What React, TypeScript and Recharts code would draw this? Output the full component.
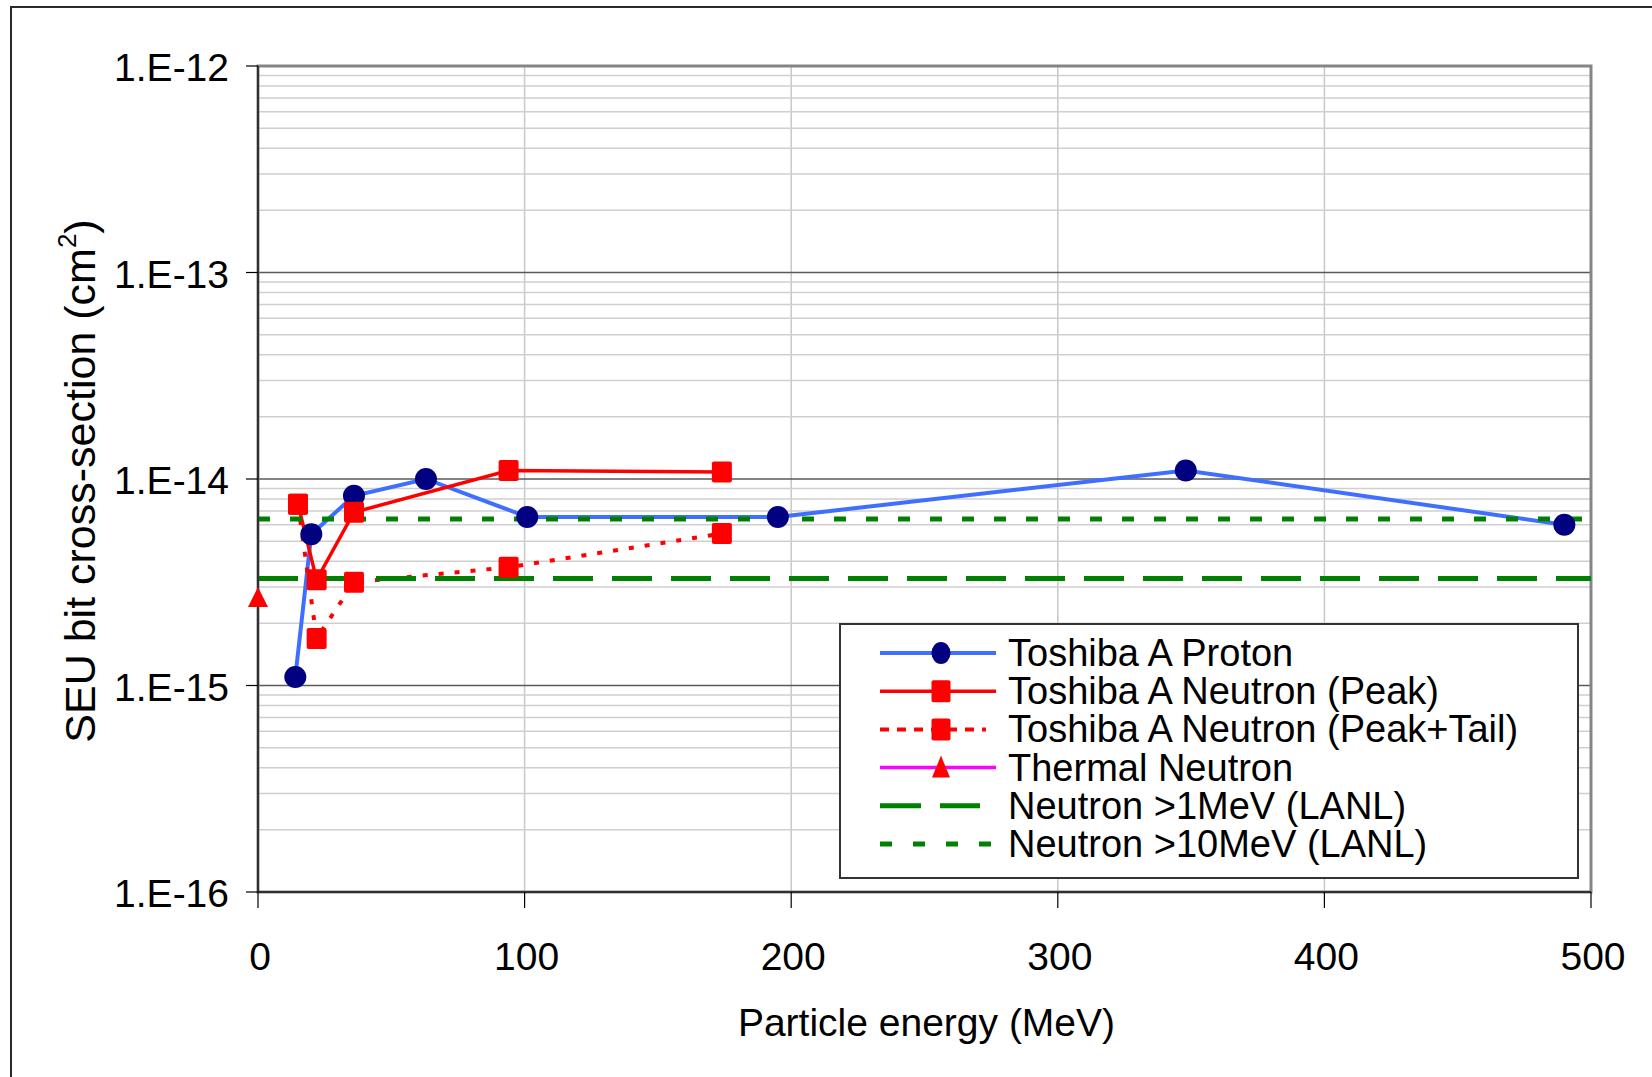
import React from 'react';
import {
  LineChart,
  Line,
  XAxis,
  YAxis,
  CartesianGrid,
  ReferenceArea,
  Legend,
  Label,
} from 'recharts';

const FONT = 'Arial, "Liberation Sans", sans-serif';

// ---- data (energy in MeV, SEU bit cross-section in cm^2) ----
const protonEnergy = [14, 20, 36, 63, 101, 195, 348, 490];
const protonSigma = [1.1e-15, 5.4e-15, 8.3e-15, 1.0e-14, 6.55e-15, 6.55e-15, 1.1e-14, 6.0e-15];

const peakEnergy = [15, 22, 36, 94, 174];
const peakSigma = [7.55e-15, 3.25e-15, 6.9e-15, 1.1e-14, 1.08e-14];

const tailEnergy = [15, 22, 36, 94, 174];
const tailSigma = [7.55e-15, 1.69e-15, 3.16e-15, 3.74e-15, 5.44e-15];

const thermalEnergy = [0];
const thermalSigma = [2.65e-15];

const lanlEnergy = [0, 500];
const lanl1MeVSigma = [3.3e-15, 3.3e-15];
const lanl10MeVSigma = [6.4e-15, 6.4e-15];

// ---- axes ----
const xTicks = [0, 100, 200, 300, 400, 500];
const yTicks = [1e-16, 1e-15, 1e-14, 1e-13, 1e-12];
const yTickLabels = ['1.E-16', '1.E-15', '1.E-14', '1.E-13', '1.E-12'];
const minorDecades = [1e-16, 1e-15, 1e-14, 1e-13];
const minorMultipliers = [2, 3, 4, 5, 6, 7, 8, 9];

const seriesNames = [
  'Toshiba A Proton',
  'Toshiba A Neutron (Peak)',
  'Toshiba A Neutron (Peak+Tail)',
  'Thermal Neutron',
  'Neutron >1MeV (LANL)',
  'Neutron >10MeV (LANL)',
];

const toPoints = (xs: number[], ys: number[]) => xs.map((x, i) => ({ x, y: ys[i] }));

const protonData = toPoints(protonEnergy, protonSigma);
const peakData = toPoints(peakEnergy, peakSigma);
const tailData = toPoints(tailEnergy, tailSigma);
const thermalData = toPoints(thermalEnergy, thermalSigma);
const lanl1Data = toPoints(lanlEnergy, lanl1MeVSigma);
const lanl10Data = toPoints(lanlEnergy, lanl10MeVSigma);

const minorValues = minorDecades.flatMap((d) => minorMultipliers.map((m) => m * d));

const BLUE = '#3F6FFF';
const NAVY = '#000080';
const RED = '#FF0000';
const GREEN = '#008000';
const MAGENTA = '#FF00FF';

const CircleDot = (props: any) => {
  const { cx, cy, index } = props;
  if (cx == null || cy == null) return <g key={`c${index}`} />;
  return <circle key={`c${index}`} cx={cx} cy={cy} r={11} fill={NAVY} />;
};

const SquareDot = (props: any) => {
  const { cx, cy, index } = props;
  if (cx == null || cy == null) return <g key={`s${index}`} />;
  return <rect key={`s${index}`} x={cx - 10} y={cy - 10.5} width={20} height={21} rx={2} fill={RED} />;
};

const TriangleDot = (props: any) => {
  const { cx, cy, index } = props;
  if (cx == null || cy == null) return <g key={`t${index}`} />;
  return (
    <path
      key={`t${index}`}
      d={`M${cx},${cy - 11} L${cx + 10},${cy + 9} L${cx - 10},${cy + 9} Z`}
      fill={RED}
    />
  );
};

const XTick = (props: any) => {
  const { x, y, payload } = props;
  return (
    <text x={x + 2} y={y} dy={38} textAnchor="middle" fontFamily={FONT} fontSize={39} fill="#000">
      {payload.value}
    </text>
  );
};

const YTick = (props: any) => {
  const { x, y, payload } = props;
  const idx = yTicks.findIndex((t) => Math.abs(Math.log10(t) - Math.log10(payload.value)) < 1e-6);
  return (
    <text x={x} y={y} dy={15} textAnchor="end" fontFamily={FONT} fontSize={39} fill="#000">
      {idx >= 0 ? yTickLabels[idx] : ''}
    </text>
  );
};

const YTitle = (props: any) => {
  const vb = props.viewBox || { x: 0, y: 0, width: 0, height: 0 };
  const x = vb.x + 95;
  const y = vb.y + vb.height / 2 + 2;
  return (
    <text
      x={x}
      y={y}
      transform={`rotate(-90, ${x}, ${y})`}
      textAnchor="middle"
      fontFamily={FONT}
      fontSize={43}
      fill="#000"
    >
      <tspan>SEU bit cross-section (cm</tspan>
      <tspan fontSize={26} dy={-19}>2</tspan>
      <tspan dy={19}>)</tspan>
    </text>
  );
};

const XTitle = (props: any) => {
  const vb = props.viewBox || { x: 0, y: 0, width: 0, height: 0 };
  return (
    <text
      x={vb.x + vb.width / 2 + 2}
      y={vb.y + 144}
      textAnchor="middle"
      fontFamily={FONT}
      fontSize={39}
      fill="#000"
    >
      Particle energy (MeV)
    </text>
  );
};

type LegendSpec = {
  stroke: string;
  dash?: string;
  width: number;
  marker?: 'circle' | 'square' | 'triangle';
  x2: number;
};

const legendSpecs: LegendSpec[] = [
  { stroke: BLUE, width: 4, marker: 'circle', x2: 157 },
  { stroke: RED, width: 3.5, marker: 'square', x2: 157 },
  { stroke: RED, width: 4, dash: '9 8', marker: 'square', x2: 147 },
  { stroke: MAGENTA, width: 3.5, marker: 'triangle', x2: 157 },
  { stroke: GREEN, width: 5, dash: '41 19', x2: 141 },
  { stroke: GREEN, width: 5, dash: '12 21', x2: 153 },
];

const LegendBox = () => (
  <svg width={740} height={256} style={{ display: 'block' }}>
    <rect x={1} y={1} width={738} height={254} fill="#fff" stroke="#333" strokeWidth={2} />
    {seriesNames.map((name, i) => {
      const s = legendSpecs[i];
      const y = 30 + i * 38.2;
      const mx = 102;
      return (
        <g key={name}>
          <line x1={41} x2={s.x2} y1={y} y2={y} stroke={s.stroke} strokeWidth={s.width} strokeDasharray={s.dash} />
          {s.marker === 'circle' && <ellipse cx={mx} cy={y} rx={9.5} ry={11} fill={NAVY} />}
          {s.marker === 'square' && <rect x={mx - 9.5} y={y - 11} width={19} height={22} rx={2} fill={RED} />}
          {s.marker === 'triangle' && (
            <path d={`M${mx},${y - 12} L${mx + 9},${y + 10} L${mx - 9},${y + 10} Z`} fill={RED} />
          )}
          <text x={169} y={y} dy={13} fontFamily={FONT} fontSize={38} fill="#000">
            {name}
          </text>
        </g>
      );
    })}
  </svg>
);

export default function App() {
  return (
    <div
      style={{
        position: 'absolute',
        left: 0,
        top: 0,
        width: 1652,
        height: 1077,
        overflow: 'hidden',
        background: '#fff',
      }}
    >
      <div
        style={{
          position: 'absolute',
          left: 10,
          top: 6,
          width: 1642,
          height: 1071,
          borderTop: '2px solid #2a2a2a',
          borderLeft: '2px solid #2a2a2a',
          boxSizing: 'border-box',
        }}
      />
      <div style={{ position: 'absolute', left: 0, top: 0 }}>
        <LineChart
          width={1652}
          height={1077}
          margin={{ top: 66, right: 61, bottom: 85, left: 0 }}
        >
          <CartesianGrid horizontal={false} vertical stroke="#C8C8C8" strokeWidth={1.5} verticalValues={xTicks} />
          <CartesianGrid vertical={false} horizontal stroke="#CFCFCF" strokeWidth={1.5} horizontalValues={minorValues} />
          <CartesianGrid vertical={false} horizontal stroke="#5A5A5A" strokeWidth={1.5} horizontalValues={yTicks} />
          <XAxis
            dataKey="x"
            type="number"
            domain={[0, 500]}
            ticks={xTicks}
            height={100}
            tickSize={16}
            tickMargin={24}
            axisLine={{ stroke: '#303030', strokeWidth: 2 }}
            tickLine={{ stroke: '#000', strokeWidth: 1.2 }}
            tick={<XTick />}
            interval={0}
          >
            <Label content={<XTitle />} />
          </XAxis>
          <YAxis
            dataKey="y"
            type="number"
            scale="log"
            domain={[1e-16, 1e-12]}
            ticks={yTicks}
            width={258}
            tickSize={12}
            tickMargin={17}
            axisLine={{ stroke: '#303030', strokeWidth: 2 }}
            tickLine={{ stroke: '#000', strokeWidth: 1.2 }}
            tick={<YTick />}
            interval={0}
          >
            <Label content={<YTitle />} />
          </YAxis>
          <ReferenceArea
            x1={0}
            x2={500}
            y1={1e-16}
            y2={1e-12}
            fill="none"
            fillOpacity={0}
            stroke="#858585"
            strokeWidth={3}
          />
          <Line
            data={protonData}
            dataKey="y"
            name={seriesNames[0]}
            stroke={BLUE}
            strokeWidth={4}
            dot={CircleDot}
            activeDot={false}
            isAnimationActive={false}
            legendType="none"
          />
          <Line
            data={peakData}
            dataKey="y"
            name={seriesNames[1]}
            stroke={RED}
            strokeWidth={3.5}
            dot={SquareDot}
            activeDot={false}
            isAnimationActive={false}
            legendType="none"
          />
          <Line
            data={tailData}
            dataKey="y"
            name={seriesNames[2]}
            stroke={RED}
            strokeWidth={4}
            strokeDasharray="5 11"
            dot={SquareDot}
            activeDot={false}
            isAnimationActive={false}
            legendType="none"
          />
          <Line
            data={thermalData}
            dataKey="y"
            name={seriesNames[3]}
            stroke={MAGENTA}
            strokeWidth={3.5}
            dot={TriangleDot}
            activeDot={false}
            isAnimationActive={false}
            legendType="none"
          />
          <Line
            data={lanl1Data}
            dataKey="y"
            name={seriesNames[4]}
            stroke={GREEN}
            strokeWidth={5}
            strokeDasharray="40 19"
            dot={false}
            activeDot={false}
            isAnimationActive={false}
            legendType="none"
          />
          <Line
            data={lanl10Data}
            dataKey="y"
            name={seriesNames[5]}
            stroke={GREEN}
            strokeWidth={5}
            strokeDasharray="12 20"
            dot={false}
            activeDot={false}
            isAnimationActive={false}
            legendType="none"
          />
          <Legend
            layout="vertical"
            align="center"
            verticalAlign="middle"
            width={740}
            height={256}
            wrapperStyle={{ left: 839, top: 623, width: 740, height: 256 }}
            content={() => <LegendBox />}
          />
        </LineChart>
      </div>
    </div>
  );
}
